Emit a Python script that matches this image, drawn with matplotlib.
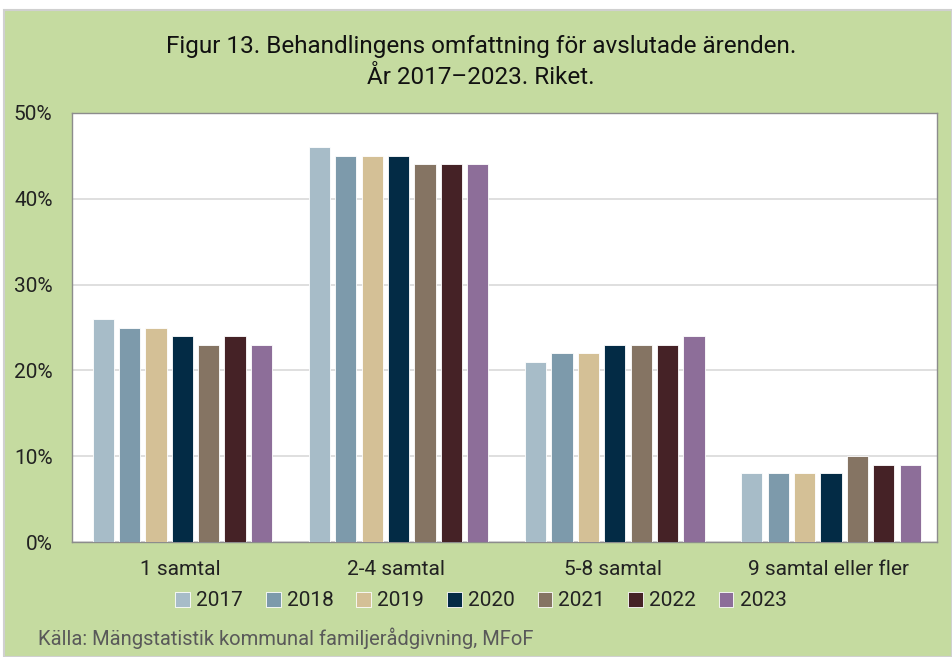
import numpy as np
import matplotlib.pyplot as plt
from matplotlib.ticker import FuncFormatter

plt.rcParams['font.family'] = ['Roboto', 'DejaVu Sans']

categories = ["1 samtal", "2-4 samtal", "5-8 samtal", "9 samtal eller fler"]
years = ["2017", "2018", "2019", "2020", "2021", "2022", "2023"]
values = {
    "2017": [26, 46, 21, 8],
    "2018": [25, 45, 22, 8],
    "2019": [25, 45, 22, 8],
    "2020": [24, 45, 23, 8],
    "2021": [23, 44, 23, 10],
    "2022": [24, 44, 23, 9],
    "2023": [23, 44, 24, 9],
}
colors = ["#a7bcc8", "#7d9aab", "#d4c096", "#032b45", "#857463", "#452226", "#8d6e99"]

bg = "#c5dba0"
fig = plt.figure(figsize=(9.52, 6.57), dpi=100)
fig.patch.set_facecolor("white")
fig.patches.append(plt.Rectangle((0.004, 0.0), 0.996, 0.985, transform=fig.transFigure,
                                 facecolor=bg, edgecolor="#d0d0d0", linewidth=1.5, zorder=-1))

ax = fig.add_axes([72 / 952, 1 - 542 / 657, 865 / 952, 429 / 657])
ax.set_facecolor("white")

x = np.arange(len(categories))
slot = 0.122
width = 0.098
for i, (yr, col) in enumerate(zip(years, colors)):
    offs = (i - 3) * slot
    ax.bar(x + offs + 0.01, values[yr], width=width, color=col, label=yr,
           edgecolor="white", linewidth=0.6, zorder=3)

ax.set_xlim(-0.5, 3.5)
ax.set_ylim(0, 50)
ax.set_yticks(range(0, 51, 10))
ax.yaxis.set_major_formatter(FuncFormatter(lambda v, p: f"{int(v)}%"))
ax.grid(axis="y", color="#d9d9d9", linewidth=1.2, zorder=0)
ax.tick_params(axis="y", length=0, pad=14, labelsize=15, labelcolor="#222222")
ax.tick_params(axis="x", length=0, pad=13, labelsize=15, labelcolor="#222222")
ax.set_xticks(x)
ax.set_xticklabels(categories)
for s in ax.spines.values():
    s.set_color("#8c8c8c")
    s.set_linewidth(1.0)

fig.text(0.505, 1 - 47 / 657, "Figur 13. Behandlingens omfattning för avslutade ärenden.",
         ha="center", va="center", fontsize=17.5, color="#111111")
fig.text(0.505, 1 - 78 / 657, "År 2017\u20132023. Riket.",
         ha="center", va="center", fontsize=17.5, color="#111111")

fig.legend(loc="center", bbox_to_anchor=(481 / 952, 1 - 601 / 657), ncol=7, frameon=False,
           fontsize=15, handlelength=0.7, handleheight=0.7, handletextpad=0.3,
           columnspacing=1.1, labelcolor="#222222")

fig.text(38 / 952, 1 - 638 / 657, "Källa: Mängstatistik kommunal familjerådgivning, MFoF",
         ha="left", va="center", fontsize=14.5, color="#595959")

plt.savefig("out.png", dpi=100, facecolor=fig.get_facecolor())
